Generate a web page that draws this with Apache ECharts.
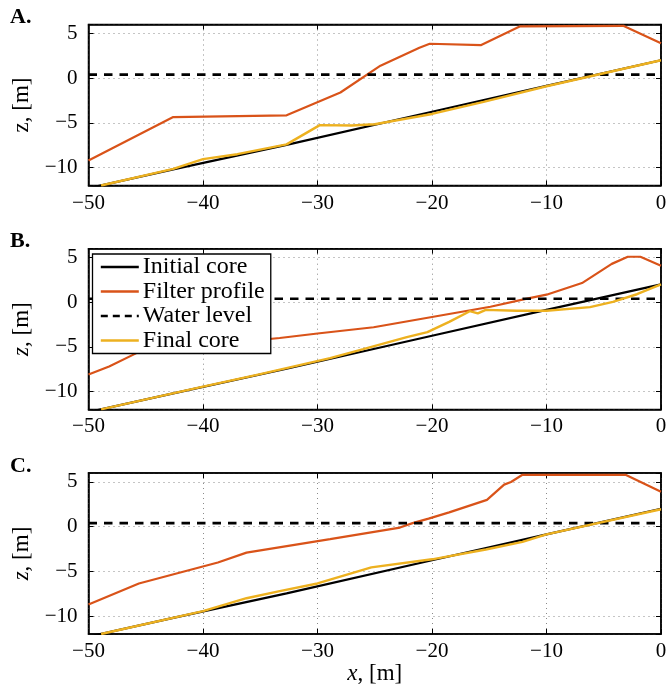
<!DOCTYPE html>
<html>
<head>
<meta charset="utf-8">
<script src="https://cdn.jsdelivr.net/npm/echarts@6/dist/echarts.min.js"></script>
<style>
  html, body { margin: 0; padding: 0; background: #fff; }
  #chart { width: 667px; height: 691px; }
</style>
</head>
<body>
<div id="chart"></div>
<script>
// ---- data ----
const panelLabels = ['A.', 'B.', 'C.'];
const seriesNames = ['Initial core', 'Filter profile', 'Water level', 'Final core'];
const xTickValues = [-50, -40, -30, -20, -10, 0];
const yTickValues = [-10, -5, 0, 5];
const xRange = [-50, 0];
const yRange = [-12, 6];
const waterLevel = 0.4;

const initialCore = [[-50, -12.3], [-42.6, -10.2], [-32.7, -7.45], [-20, -3.75], [-10, -0.86], [0, 2.0]];

const filterA = [[-50, -9.2], [-42.6, -4.35], [-32.7, -4.15], [-28, -1.6], [-24.5, 1.4], [-21.1, 3.4],
  [-20.2, 3.85], [-15.7, 3.7], [-12.3, 5.8], [-3.3, 5.85], [0, 3.9]];
const finalA = [[-48.9, -12], [-42.6, -10.15], [-40, -9.05], [-37, -8.5], [-32.7, -7.4], [-29.8, -5.25],
  [-27, -5.3], [-25, -5.15], [-20, -4.0], [-15.5, -2.65], [-10, -0.9], [0, 2.0]];

const filterB = [[-50, -8.1], [-48.2, -7.2], [-45.5, -5.5], [-33.3, -4.0], [-30, -3.5], [-25.1, -2.8],
  [-20, -1.65], [-14.9, -0.5], [-11.7, 0.4], [-10, 0.85], [-6.9, 2.15], [-4.3, 4.3], [-2.9, 5.1],
  [-1.8, 5.1], [0, 4.1]];
const finalB = [[-48.9, -12], [-40, -9.45], [-35, -8.05], [-28.9, -6.25], [-26, -5.25], [-22.2, -3.9],
  [-20.4, -3.35], [-18.5, -2.2], [-16.7, -1.0], [-16, -1.25], [-15.3, -0.85], [-12.6, -0.95],
  [-10, -0.95], [-6.2, -0.55], [-4.2, 0.05], [-2.1, 0.9], [0, 2.0]];

const filterC = [[-50, -8.7], [-45.6, -6.35], [-38.7, -4.0], [-36.2, -2.9], [-28.9, -1.4], [-22.8, -0.1],
  [-21.7, 0.4], [-20.3, 0.9], [-18.5, 1.6], [-15.2, 3.0], [-13.7, 4.7], [-13.1, 5.0], [-12.1, 5.8],
  [-3.1, 5.8], [0, 3.9]];
const finalC = [[-48.9, -12], [-40, -9.45], [-36.2, -8.0], [-33.3, -7.2], [-30, -6.35], [-25.3, -4.55],
  [-20, -3.65], [-15.3, -2.55], [-12.1, -1.7], [-10, -0.86], [0, 1.95]];

const filterProfiles = [filterA, filterB, filterC];
const finalCores = [finalA, finalB, finalC];

// ---- styling / layout ----
const FONT = 'Liberation Serif';
const colors = { initial: '#000000', filter: '#D95319', water: '#000000', final: '#EDB120' };
const gridTops = [24.5, 248.7, 473];
const gridHeights = [161, 160.7, 161];
const gridLeft = 88.5, gridWidth = 572.5;

const minusFmt = v => String(v).replace('-', '\u2212');

const grids = [], xAxes = [], yAxes = [], series = [];
const yNames = ['z, [m]', '{i|z}, [m]', '{i|z}, [m]'];

for (let i = 0; i < 3; i++) {
  grids.push({ left: gridLeft, top: gridTops[i], width: gridWidth, height: gridHeights[i],
    show: true, borderColor: '#000', borderWidth: 1.5, backgroundColor: 'transparent',
    containLabel: false, outerBoundsMode: 'none' });

  const axBase = {
    type: 'value', gridIndex: i, min: xRange[0], max: xRange[1], interval: 10,
  };
  xAxes.push(Object.assign({}, axBase, {
    position: 'bottom',
    axisLine: { show: true, onZero: false, lineStyle: { color: '#000', width: 1.5 } },
    axisTick: { show: true, inside: true, length: 5, lineStyle: { color: '#000', width: 1 } },
    axisLabel: { show: true, margin: 7, fontSize: 21, fontFamily: FONT, color: '#000',
      formatter: v => xTickValues.indexOf(v) >= 0 ? minusFmt(v) : '' },
    splitLine: { show: true, lineStyle: { color: '#8a8a8a', width: 1, type: [1, 4] } },
    name: i === 2 ? '{i|x}, [m]' : '',
    nameLocation: 'middle', nameGap: 27,
    nameTextStyle: { fontSize: 23, fontFamily: FONT, color: '#000',
      rich: { i: { fontStyle: 'italic', fontSize: 23, fontFamily: FONT, color: '#000' } } }
  }));
  xAxes.push(Object.assign({}, axBase, {
    position: 'top',
    axisLine: { show: true, onZero: false, lineStyle: { color: '#000', width: 1.5 } },
    axisTick: { show: true, inside: true, length: 5, lineStyle: { color: '#000', width: 1 } },
    axisLabel: { show: false }, splitLine: { show: false }
  }));

  const yBase = { type: 'value', gridIndex: i, min: yRange[0], max: yRange[1], splitNumber: 4 };
  yAxes.push(Object.assign({}, yBase, {
    position: 'left',
    axisLine: { show: true, onZero: false, lineStyle: { color: '#000', width: 1.5 } },
    axisTick: { show: true, inside: true, length: 5, lineStyle: { color: '#000', width: 1 } },
    axisLabel: { show: true, margin: 11, fontSize: 21, fontFamily: FONT, color: '#000',
      showMinLabel: false, showMaxLabel: false,
      formatter: v => yTickValues.indexOf(v) >= 0 ? minusFmt(v) : '' },
    splitLine: { show: true, lineStyle: { color: '#8a8a8a', width: 1, type: [1, 4] } },
    name: yNames[i], nameLocation: 'middle', nameGap: 55, nameRotate: 90,
    nameTextStyle: { fontSize: 23, fontFamily: FONT, color: '#000',
      rich: { i: { fontStyle: 'italic', fontSize: 23, fontFamily: FONT, color: '#000' } } }
  }));
  yAxes.push(Object.assign({}, yBase, {
    position: 'right',
    axisLine: { show: true, onZero: false, lineStyle: { color: '#000', width: 1.5 } },
    axisTick: { show: true, inside: true, length: 5, lineStyle: { color: '#000', width: 1 } },
    axisLabel: { show: false }, splitLine: { show: false }
  }));

  const xi = i * 2, yi = i * 2;
  const common = { type: 'line', xAxisIndex: xi, yAxisIndex: yi, symbol: 'none', showSymbol: false,
    silent: true, animation: false, clip: true };
  series.push(Object.assign({}, common, { name: seriesNames[0], data: initialCore,
    lineStyle: { color: colors.initial, width: 2.2 }, itemStyle: { color: colors.initial } }));
  series.push(Object.assign({}, common, { name: seriesNames[1], data: filterProfiles[i],
    lineStyle: { color: colors.filter, width: 2.2 }, itemStyle: { color: colors.filter } }));
  series.push(Object.assign({}, common, { name: seriesNames[2],
    data: [[xRange[0], waterLevel], [xRange[1], waterLevel]],
    lineStyle: { color: colors.water, width: 2.6, type: [8.5, 7] }, itemStyle: { color: colors.water } }));
  series.push(Object.assign({}, common, { name: seriesNames[3], data: finalCores[i],
    lineStyle: { color: colors.final, width: 2.4 }, itemStyle: { color: colors.final } }));
}

const legendLineStyles = [
  { color: colors.initial, width: 2.6, type: 'solid' },
  { color: colors.filter, width: 2.6, type: 'solid' },
  { color: colors.water, width: 2.6, type: [7, 5] },
  { color: colors.final, width: 2.6, type: 'solid' }
];

const chart = echarts.init(document.getElementById('chart'), null, { renderer: 'canvas' });
chart.setOption({
  backgroundColor: '#fff',
  animation: false,
  grid: grids,
  xAxis: xAxes,
  yAxis: yAxes,
  legend: {
    show: true, orient: 'vertical', left: 92.5, top: 254,
    data: seriesNames.map((n, k) => ({ name: n, lineStyle: legendLineStyles[k],
      itemStyle: { opacity: 0, borderWidth: 0 } })),
    itemWidth: 38, itemHeight: 14, itemGap: 0.5,
    padding: [1, 6, 1, 7],
    backgroundColor: '#fff', borderColor: '#000', borderWidth: 1.3,
    textStyle: { fontSize: 24, fontFamily: FONT, color: '#000', padding: [0, 0, 0, -1] },
    selectedMode: false
  },
  graphic: panelLabels.map((t, i) => ({
    type: 'text', left: 10, top: [6, 230.5, 455][i],
    style: { text: t, font: 'bold 22px "Liberation Serif"', fill: '#000' }
  })),
  series: series
});
</script>
</body>
</html>
